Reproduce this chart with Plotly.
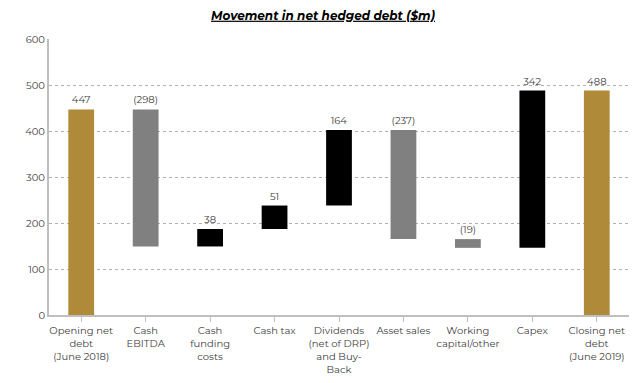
import plotly.graph_objects as go

categories = ["Opening net<br>debt<br>(June 2018)", "Cash<br>EBITDA", "Cash<br>funding<br>costs", "Cash tax",
              "Dividends<br>(net of DRP)<br>and Buy-<br>Back", "Asset sales", "Working<br>capital/other",
              "Capex", "Closing net<br>debt<br>(June 2019)"]
movements = [447, -298, 38, 51, 164, -237, -19, 342, 488]
kinds = ["total", "dec", "inc", "inc", "inc", "dec", "dec", "inc", "total"]
labels = ["447", "(298)", "38", "51", "164", "(237)", "(19)", "342", "488"]

color_map = {"total": "#AF8A38", "dec": "#808080", "inc": "#000000"}

bases, heights = [], []
running = 0
for m, k in zip(movements, kinds):
    if k == "total":
        bases.append(0); heights.append(m); running = m
    else:
        new = running + m
        bases.append(min(running, new)); heights.append(abs(m)); running = new

fig = go.Figure(go.Bar(
    x=list(range(len(categories))), y=heights, base=bases,
    marker=dict(color=[color_map[k] for k in kinds], line=dict(width=0)),
    width=0.4, text=labels, textposition="outside", cliponaxis=False,
    textfont=dict(size=10, color="#404040", family="Montserrat, Open Sans, sans-serif"),
))

fig.update_layout(
    template="none",
    width=630, height=375, margin=dict(l=41, r=9, t=31, b=68, autoexpand=False),
    plot_bgcolor="white", paper_bgcolor="white", showlegend=False,
    font=dict(family="Montserrat, Open Sans, sans-serif", size=10, color="#404040"),
    title=dict(text="<b><i><u>Movement in net hedged debt ($m)</u></i></b>", x=0.5, xanchor="center",
               yref="container", y=0.98, yanchor="middle", font=dict(size=12, color="#000000")),
    bargap=0.6,
)
fig.update_yaxes(range=[0, 600], dtick=100, showgrid=True, gridcolor="#B0B0B0", griddash="dot", gridwidth=1,
                 showline=True, linecolor="#BFBFBF", linewidth=2, zeroline=False, ticks="", ticklen=0,
                 automargin=False, tickfont=dict(size=10, color="#404040"))
fig.update_xaxes(tickvals=list(range(len(categories))), ticktext=categories, range=[-0.5, 8.5],
                 showline=True, linecolor="#BFBFBF", linewidth=2, ticks="outside", tickson="boundaries",
                 ticklen=5, tickcolor="#BFBFBF", showgrid=False, tickangle=0, automargin=False,
                 tickfont=dict(size=10, color="#404040"))

fig.write_html("out.html")
